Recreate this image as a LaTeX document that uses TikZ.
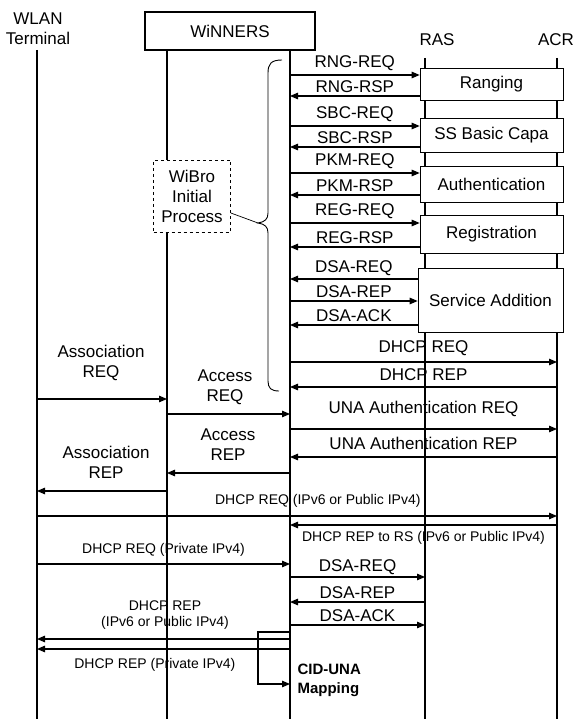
\documentclass[tikz,border=0pt]{standalone}
\usepackage{fontspec}
\setmainfont{Liberation Sans}
\usetikzlibrary{arrows.meta}

\begin{document}
\begin{tikzpicture}[x=1pt, y=-1pt, line width=1.1pt,
    msg/.style={-{Triangle[length=8pt,width=6.5pt]}},
    lbl/.style={font=\fontsize{17}{20}\selectfont, inner sep=1pt},
    small/.style={font=\fontsize{14}{16}\selectfont, inner sep=1pt},
    procbox/.style={draw, line width=0.7pt, fill=white, minimum width=143pt, font=\fontsize{17}{20}\selectfont}]
  \useasboundingbox (0,0) rectangle (577,719);
  % heads of the lifelines
  \node[lbl, align=center] (wlan) at (38,29) {WLAN\\Terminal};
  \node[draw, lbl, minimum width=170pt, minimum height=38pt] (winners) at (230,31) {WiNNERS};
  \node[lbl] (ras) at (437,40) {RAS};
  \node[lbl] (acr) at (556,40) {ACR};
  \coordinate (T) at (37,50);
  \coordinate (WL) at (167,50);
  \coordinate (WR) at (290,50);
  \coordinate (R) at (425,58);
  \coordinate (A) at (557,58);
  \foreach \c in {T,WL,WR,R,A}
    \draw (\c) -- (\c |- 0,719);

  % WiBro initial process and its brace
  \node[draw, dashed, line width=0.7pt, fill=white, lbl, align=center, minimum width=77pt, minimum height=72pt] (wibro) at (192,196) {WiBro\\Initial\\Process};
  \coordinate (tip) at (258,223);
  \draw[line width=0.9pt] (282,60) .. controls (271,60) and (268,64) .. (268,73) -- (268,213)
    .. controls (268,219) and (265,222) .. (tip) .. controls (265,224) and (268,227) .. (268,233)
    -- (268,381) .. controls (268,388) and (271,391) .. (279,391);
  \draw[line width=0.7pt] (wibro.east |- 0,213) -- (tip);

  % RAS / ACR procedures
  \node[procbox, minimum height=32pt] (rng) at (491.5,84) {Ranging};
  \node[procbox, minimum height=34pt] (sbc) at (491.5,135) {SS Basic Capa};
  \node[procbox, minimum height=36pt] (pkm) at (491.5,184) {Authentication};
  \node[procbox, minimum height=38pt] (reg) at (491.5,234) {Registration};
  \node[procbox, minimum height=64pt, minimum width=145pt] (dsa) at (490.5,300) {Service Addition};
  \foreach \ya/\yb/\nm/\ta/\tb in {75/96/rng/RNG-REQ/RNG-RSP, 126/147/sbc/SBC-REQ/SBC-RSP,
      173/195/pkm/PKM-REQ/PKM-RSP, 223/247/reg/REG-REQ/REG-RSP}{
    \draw[msg] (WR |- 0,\ya) -- (\nm.west |- 0,\ya) node[lbl, midway, above=3pt] {\ta};
    \draw[msg] (\nm.west |- 0,\yb) -- (WR |- 0,\yb) node[lbl, midway, above=1.5pt] {\tb};
  }
  \draw[msg] (dsa.west |- 0,279) -- (WR |- 0,279) node[lbl, midway, above=1.5pt] {DSA-REQ};
  \draw[msg] (WR |- 0,301) -- (dsa.west |- 0,301) node[lbl, midway, above=1.5pt] {DSA-REP};
  \draw[msg] (dsa.west |- 0,325) -- (WR |- 0,325) node[lbl, midway, above=1.5pt] {DSA-ACK};
  \draw[msg] (WR |- 0,362) -- (A |- 0,362) node[lbl, midway, above=5pt] {DHCP REQ};
  \draw[msg] (A |- 0,387) -- (WR |- 0,387) node[lbl, midway, above=5pt] {DHCP REP};

  % association and access
  \draw[msg] (T |- 0,399) -- (WL |- 0,399);
  \node[lbl, align=center] (assreq) at (101,363) {Association\\REQ};
  \draw[msg] (WL |- 0,414) -- (WR |- 0,414);
  \node[lbl, align=center] (accreq) at (225,387) {Access\\REQ};
  \draw[msg] (WR |- 0,429) -- (A |- 0,429) node[lbl, midway, above=11pt] {UNA Authentication REQ};
  \draw[msg] (A |- 0,457) -- (WR |- 0,457) node[lbl, midway, above=6pt] {UNA Authentication REP};
  \draw[msg] (WR |- 0,473) -- (WL |- 0,473);
  \node[lbl, align=center] (accrep) at (228,445) {Access\\REP};
  \draw[msg] (WL |- 0,491) -- (T |- 0,491);
  \node[lbl, align=center] (assrep) at (106,462) {Association\\REP};

  % address allocation
  \draw[msg] (T |- 0,516) -- (A |- 0,516) node[small, pos=0.54, above=7pt] {DHCP REQ (IPv6 or Public IPv4)};
  \draw[msg] (A |- 0,525) -- (WR |- 0,525) node[small, midway, below=5pt] {DHCP REP to RS (IPv6 or Public IPv4)};
  \draw[msg] (T |- 0,564) -- (WR |- 0,564) node[small, midway, above=6pt] {DHCP REQ (Private IPv4)};
  \draw[msg] (WR |- 0,577) -- (R |- 0,577) node[lbl, midway, above=1pt] {DSA-REQ};
  \draw[msg] (R |- 0,602) -- (WR |- 0,602) node[lbl, midway, above=2pt] {DSA-REP};
  \draw[msg] (WR |- 0,625) -- (R |- 0,625) node[lbl, midway, above=1.5pt] {DSA-ACK};
  \node[small, align=center] (pubrep) at (165,615) {DHCP REP\\(IPv6 or Public IPv4)};
  \draw[msg] (WR |- 0,639) -- (T |- 0,639);
  \draw[msg] (WR |- 0,649) -- (T |- 0,649) node[small, pos=0.534, below=8pt] {DHCP REP (Private IPv4)};

  % CID-UNA mapping
  \draw[msg] (WR |- 0,632) -- ++(-32,0) -- ++(0,52) -- (WR |- 0,684);
  \node[anchor=west, align=left, inner sep=0pt, font=\fontsize{15}{19}\selectfont\bfseries] (cid) at (297,680) {CID-UNA\\Mapping};
\end{tikzpicture}
\end{document}
